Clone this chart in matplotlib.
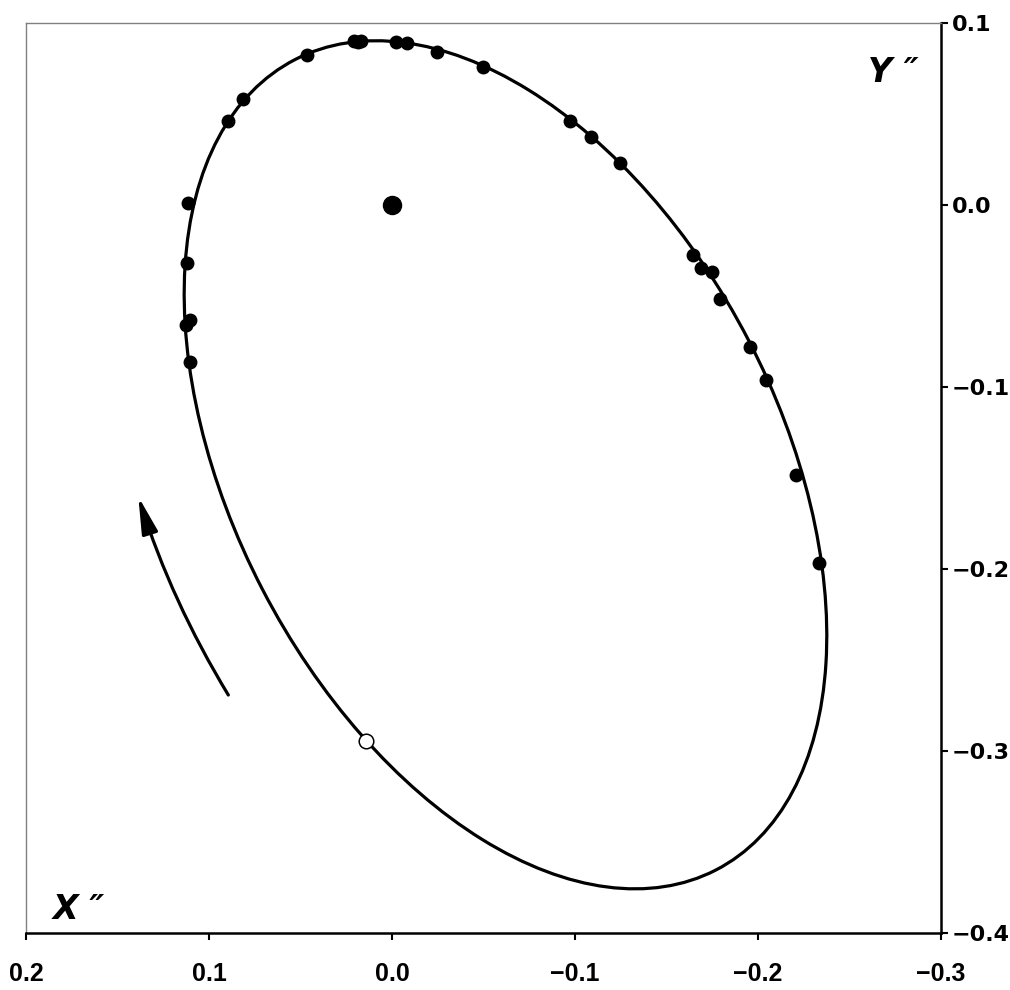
import numpy as np
import matplotlib
matplotlib.use('Agg')
from matplotlib import pyplot as plt
from matplotlib.patches import Ellipse

# observed relative positions (X", Y")
obs_x = [0.0207, 0.0168, 0.0183, -0.0023, -0.0085, -0.0245, -0.0500, -0.0974, -0.1087,
         -0.1248, -0.1648, -0.1689, -0.1749, -0.1794, -0.1955, -0.2044, -0.2210, -0.2337,
         0.0465, 0.0812, 0.0897, 0.1113, 0.1121, 0.1125, 0.1103, 0.1103]
obs_y = [0.0897, 0.0897, 0.0896, 0.0896, 0.0887, 0.0841, 0.0755, 0.0462, 0.0370,
         0.0227, -0.0276, -0.0349, -0.0368, -0.0518, -0.0784, -0.0963, -0.1485, -0.1967,
         0.0823, 0.0581, 0.0462, 0.0011, -0.0322, -0.0661, -0.0634, -0.0863]

# apparent orbit (centre, full axes, position angle in plot coords)
orbit_center = (-0.0621, -0.1429)
orbit_width = 0.5012
orbit_height = 0.2989
orbit_angle = 62.7

primary_xy = (0.0, 0.0)
open_xy = (0.0143, -0.2945)

# direction of motion arrow
arrow_tail = (0.0894, -0.2694)
arrow_tip = (0.1386, -0.1604)

xticks = [0.2, 0.1, 0.0, -0.1, -0.2, -0.3]
xtick_labels = ['0.2', '0.1', '0.0', '\u22120.1', '\u22120.2', '\u22120.3']
yticks = [0.1, 0.0, -0.1, -0.2, -0.3, -0.4]
ytick_labels = ['0.1', '0.0', '\u22120.1', '\u22120.2', '\u22120.3', '\u22120.4']

fig = plt.figure(figsize=(10.1, 9.9), dpi=100)
ax = fig.add_axes([26/1010, 1-932.7/990, (940.7-26)/1010, (932.7-22.7)/990])

ell = Ellipse(orbit_center, orbit_width, orbit_height, angle=orbit_angle,
              fill=False, edgecolor='black', lw=2.3, zorder=2)
ax.add_patch(ell)

ax.plot(obs_x, obs_y, 'o', color='black', ms=9, zorder=3)
ax.plot(*primary_xy, 'o', color='black', ms=13, zorder=3)
ax.plot(*open_xy, 'o', mfc='white', mec='black', mew=1.1, ms=10.5, zorder=4)

ax.annotate('', xy=arrow_tip, xytext=arrow_tail,
            arrowprops=dict(arrowstyle='-|>,head_length=1.6,head_width=0.35',
                            connectionstyle='arc3,rad=-0.06', color='black',
                            lw=2.3, shrinkA=0, shrinkB=0, mutation_scale=14))

ax.set_xlim(0.2, -0.3)
ax.set_ylim(-0.4, 0.1)

ax.set_xticks(xticks)
ax.set_xticklabels(xtick_labels, fontfamily='Liberation Sans', fontweight='bold', fontsize=18)
ax.yaxis.tick_right()
ax.set_yticks(yticks)
ax.set_yticklabels(ytick_labels, fontfamily='DejaVu Sans', fontweight='bold', fontsize=16)
ax.tick_params(axis='x', direction='out', length=5, width=1.5, pad=16)
ax.tick_params(axis='y', direction='out', length=5, width=1.5, pad=3)

for s in ['top', 'left']:
    ax.spines[s].set_color('#808080')
    ax.spines[s].set_linewidth(1.0)
for s in ['bottom', 'right']:
    ax.spines[s].set_color('black')
    ax.spines[s].set_linewidth(1.8)

fig.text(53/1010, 1-919/990, 'X \u2033', fontfamily='DejaVu Sans', fontweight='bold',
         fontstyle='oblique', fontsize=24, ha='left', va='baseline')
fig.text(868/1010, 1-82/990, 'Y \u2033', fontfamily='DejaVu Sans', fontweight='bold',
         fontstyle='oblique', fontsize=24, ha='left', va='baseline')

fig.savefig('out.png', dpi=100)
